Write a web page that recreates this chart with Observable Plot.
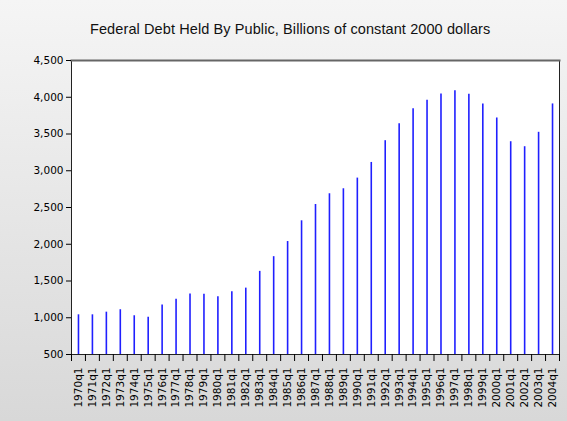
<!DOCTYPE html>
<html>
<head>
<meta charset="utf-8">
<script src="https://cdn.jsdelivr.net/npm/d3@7"></script>
<script src="https://cdn.jsdelivr.net/npm/@observablehq/plot@0.6"></script>
<style>
  html, body { margin: 0; padding: 0; }
  #wrap {
    width: 567px; height: 421px; position: relative; overflow: hidden;
    background: linear-gradient(#f5f5f5, #d8d8d8);
  }
  #title {
    height: 44px; box-sizing: border-box; padding: 21px 0 0 90px;
    text-align: left; white-space: nowrap; font-family: "Liberation Sans", Arial, sans-serif;
    font-size: 14.5px; letter-spacing: 0.1px; color: #111;
  }
  svg { display: block; background: transparent; }
</style>
</head>
<body>
<div id="wrap">
  <div id="title">Federal Debt Held By Public, Billions of constant 2000 dollars</div>
  <div id="chart"></div>
</div>
<script>
const years = [1970,1971,1972,1973,1974,1975,1976,1977,1978,1979,1980,1981,1982,1983,1984,1985,1986,1987,1988,1989,1990,1991,1992,1993,1994,1995,1996,1997,1998,1999,2000,2001,2002,2003,2004];
const debt = [1040,1040,1076,1109,1027,1008,1172,1253,1322,1320,1286,1354,1403,1631,1831,2037,2319,2541,2687,2755,2900,3113,3409,3640,3845,3959,4045,4090,4042,3909,3718,3395,3327,3523,3909];
const yTicks = [500,1000,1500,2000,2500,3000,3500,4000,4500];
const baseline = 500;

const data = years.map((y, i) => ({year: y, value: debt[i]}));
const boundaries = years.map(y => y - 0.5).concat([years[years.length - 1] + 0.5]);

const chart = Plot.plot({
  width: 567,
  height: 377,
  marginLeft: 71,
  marginRight: 8,
  marginTop: 16,
  marginBottom: 67,
  style: {fontFamily: "DejaVu Sans, sans-serif", fontSize: "10.5px", color: "#000", background: "transparent"},
  x: {type: "linear", domain: [years[0] - 0.5, years[years.length - 1] + 0.5]},
  y: {domain: [yTicks[0], yTicks[yTicks.length - 1]]},
  marks: [
    Plot.frame({fill: "white"}),
    Plot.ruleX(data, {x: "year", y1: baseline, y2: "value", stroke: "#1f1fff", strokeWidth: 1.6}),
    Plot.frame({stroke: "#222", strokeWidth: 1}),
    Plot.frame({anchor: "top", stroke: "#666", strokeWidth: 2}),
    Plot.axisY({ticks: yTicks, tickFormat: d3.format(","), tickSize: 5, tickPadding: 3, label: null}),
    Plot.axisX({ticks: boundaries, tickFormat: () => "", tickSize: 7, label: null}),
    Plot.axisX({ticks: years, tickFormat: d => d + "q1", tickSize: 0, tickPadding: 13, tickRotate: -90, label: null})
  ]
});
document.getElementById("chart").appendChild(chart);
</script>
</body>
</html>
